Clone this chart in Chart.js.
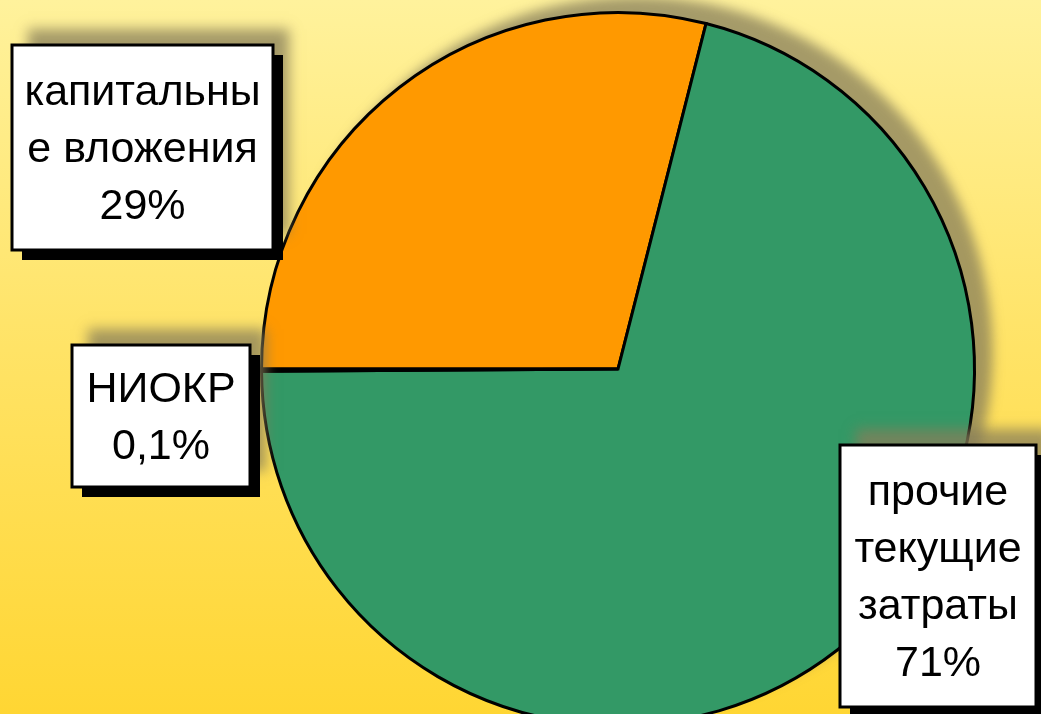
<!DOCTYPE html>
<html>
<head>
<meta charset="utf-8">
<script src="https://cdn.jsdelivr.net/npm/chart.js@4.4.1/dist/chart.umd.min.js"></script>
<style>
  html, body { margin: 0; padding: 0; overflow: hidden; }
  body { width: 1041px; height: 714px; background: linear-gradient(to bottom, #fff29c 0%, #ffe46a 45%, #ffd633 100%); }
  #wrap { position: absolute; left: 0; top: 0; width: 1041px; height: 740px; }
</style>
</head>
<body>
<div id="wrap"><canvas id="pieChart" width="1041" height="740"></canvas></div>
<script>
const categories = ['капитальные вложения', 'прочие текущие затраты', 'НИОКР'];
const shares = [29, 71, 0.1];
const shareLabels = ['29%', '71%', '0,1%'];
const colors = ['#ff9900', '#339966', '#ff9900'];

// label boxes, text lines come from the arrays above
const boxes = [
    { i: 0, x: 12, y: 45, w: 261, h: 205, lines: ['капитальны', 'е вложения'], y0: 93 },
    { i: 2, x: 72, y: 345, w: 178, h: 142, lines: ['НИОКР'], y0: 390 },
    { i: 1, x: 840, y: 445, w: 196, h: 262, lines: ['прочие', 'текущие', 'затраты'], y0: 493 }
];

const shadowColor = 'rgba(135, 125, 90, 0.75)';

const pieShadow = {
    id: 'pieShadow',
    beforeDatasetsDraw(chart) {
        const arc = chart.getDatasetMeta(0).data[0];
        if (!arc) return;
        const ctx = chart.ctx;
        ctx.save();
        ctx.shadowColor = shadowColor;
        ctx.shadowBlur = 12;
        ctx.shadowOffsetX = 18;
        ctx.shadowOffsetY = -16;
        ctx.fillStyle = '#339966';
        ctx.beginPath();
        ctx.arc(arc.x, arc.y, arc.outerRadius, 0, Math.PI * 2);
        ctx.fill();
        ctx.restore();
    }
};

const labelBoxes = {
    id: 'labelBoxes',
    afterDatasetsDraw(chart) {
        const ctx = chart.ctx;
        ctx.save();
        boxes.forEach(b => {
            // soft olive shadow, then hard black one
            ctx.save();
            ctx.shadowColor = shadowColor;
            ctx.shadowBlur = 12;
            ctx.shadowOffsetX = 16;
            ctx.shadowOffsetY = -16;
            ctx.fillStyle = '#fff';
            ctx.fillRect(b.x, b.y, b.w, b.h);
            ctx.restore();

            ctx.fillStyle = '#000';
            ctx.fillRect(b.x + 10, b.y + 10, b.w, b.h);
            ctx.fillStyle = '#fff';
            ctx.fillRect(b.x, b.y, b.w, b.h);
            ctx.lineWidth = 3;
            ctx.strokeStyle = '#000';
            ctx.strokeRect(b.x, b.y, b.w, b.h);

            ctx.fillStyle = '#000';
            ctx.font = '43px "Liberation Sans", Arial, sans-serif';
            ctx.textAlign = 'center';
            ctx.textBaseline = 'middle';
            const cx = b.x + b.w / 2;
            const all = b.lines.concat([shareLabels[b.i]]);
            all.forEach((t, k) => ctx.fillText(t, cx, b.y0 + k * 57));
        });
        ctx.restore();
    }
};

new Chart(document.getElementById('pieChart'), {
    type: 'pie',
    data: {
        labels: categories,
        datasets: [{
            data: shares,
            backgroundColor: colors,
            borderColor: '#000',
            borderWidth: 3,
            borderJoinStyle: 'miter'
        }]
    },
    options: {
        responsive: false,
        animation: false,
        rotation: -90,
        layout: { padding: { left: 260, right: 65, top: 11, bottom: 13 } },
        plugins: {
            legend: { display: false },
            tooltip: { enabled: false }
        }
    },
    plugins: [pieShadow, labelBoxes]
});
</script>
</body>
</html>
